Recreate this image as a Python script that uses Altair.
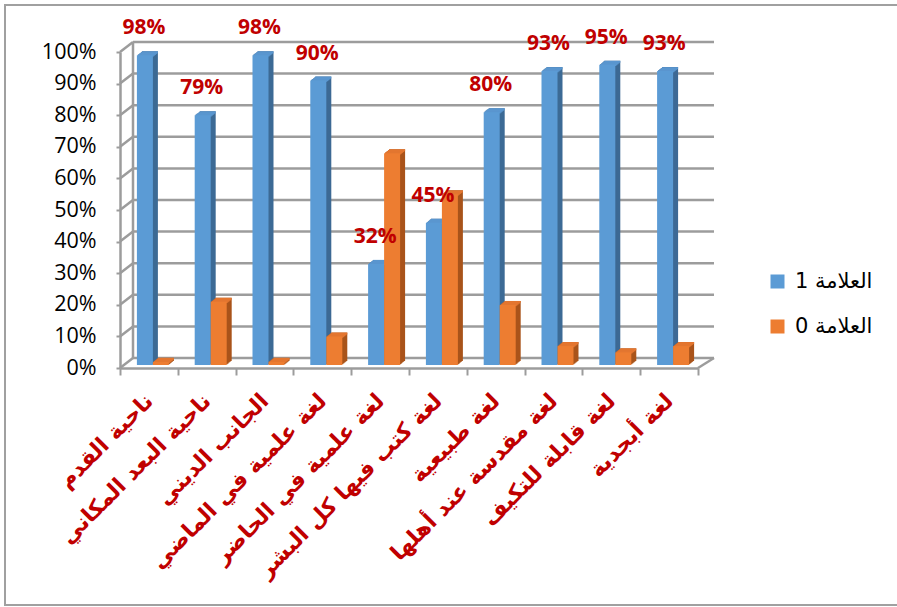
import altair as alt
import pandas as pd

categories = [
    "ناحية القدم",
    "ناحية البعد المكاني",
    "الجانب الديني",
    "لغة علمية في الماضي",
    "لغة علمية في الحاضر",
    "لغة كتب فيها كل البشر",
    "لغة طبيعية",
    "لغة مقدسة عند أهلها",
    "لغة قابلة للتكيف",
    "لغة أبجدية",
]
score1 = [98, 79, 98, 90, 32, 45, 80, 93, 95, 93]
score0 = [1, 20, 1, 9, 67, 54, 19, 6, 4, 6]
series_names = ["العلامة 1", "العلامة 0"]
tick_values = list(range(0, 101, 10))

W, H = 578, 316
PAD_L, PAD_T = 120, 52

df1 = pd.DataFrame({"cat": categories, "v": score1, "s": series_names[0]})
df0 = pd.DataFrame({"cat": categories, "v": score0, "s": series_names[1]})
df_ticks = pd.DataFrame({"t": tick_values})

xscale = alt.Scale(domain=categories, paddingInner=0, paddingOuter=0)
yscale = alt.Scale(domain=[0, 100], nice=False)
cscale = alt.Scale(domain=series_names, range=["#5B9BD5", "#ED7D31"])

GRID = "#9C9C9C"
GW = 2.5


def X():
    return alt.X("cat:N", scale=xscale, sort=categories, title=None)


def Y(f):
    return alt.Y(f, scale=yscale, title=None)


axes = alt.Chart(pd.DataFrame({"cat": categories, "t": [0] * len(categories)})).mark_point(opacity=0).encode(
    x=X(), y=Y("t:Q")
)

# back-wall gridlines
grid = alt.Chart(df_ticks).mark_rule(color=GRID, strokeWidth=GW, yOffset=-10).encode(
    y=Y("t:Q"), x=alt.value(13), x2=alt.value(W + 16)
)
# side connectors
conn = alt.Chart(df_ticks).mark_rule(color=GRID, strokeWidth=GW, y2Offset=-10).encode(
    y=Y("t:Q"), y2="t:Q", x=alt.value(0), x2=alt.value(13)
)
backleft = alt.Chart(pd.DataFrame({"a": [0], "b": [100]})).mark_rule(
    color=GRID, strokeWidth=GW, yOffset=-10, y2Offset=-10
).encode(y=Y("a:Q"), y2="b:Q", x=alt.value(13))
floorright = alt.Chart(pd.DataFrame({"a": [0]})).mark_rule(
    color=GRID, strokeWidth=GW, y2Offset=-10
).encode(y=Y("a:Q"), y2="a:Q", x=alt.value(W), x2=alt.value(W + 16))

layers = [axes, grid, conn, backleft, floorright]

specs = [
    (df1, -4, "#3D6A95", "#5A96CF"),
    (df0, 12, "#A9541B", "#E37630"),
]
for df, xo, dark, top in specs:
    for k in [5, 4, 3, 2, 1]:
        layers.append(
            alt.Chart(df).mark_bar(
                width=16, color=dark, xOffset=xo + k, yOffset=-3 - 0.8 * k,
                y2Offset=-3 - 0.8 * k,
            ).encode(x=X(), y=Y("v:Q"))
        )
    for k in [5, 4, 3, 2, 1]:
        layers.append(
            alt.Chart(df).mark_bar(
                width=16, color=top, xOffset=xo + k, yOffset=-3 - 0.8 * k,
                y2Offset=-3 - 0.8 * k + 2,
            ).encode(x=X(), y=Y("v:Q"), y2="v:Q")
        )
    layers.append(
        alt.Chart(df).mark_bar(width=16, xOffset=xo, yOffset=-3, y2Offset=-3).encode(
            x=X(),
            y=Y("v:Q"),
            color=alt.Color(
                "s:N", scale=cscale, sort=series_names,
                legend=alt.Legend(
                    title=None, orient="none", legendX=647, legendY=219,
                    symbolType="square", symbolSize=196, symbolStrokeWidth=0,
                    labelFont="DejaVu Sans", labelFontSize=21, labelColor="#000000",
                    labelOffset=7, rowPadding=23, padding=0,
                ),
            ),
        )
    )

labels = alt.Chart(df1).transform_calculate(lab="datum.v + '%'").mark_text(
    font="Open Sans", fontWeight="bold", fontSize=21, color="#C00000",
    baseline="middle", align="center", dx=-5, dy=-30,
).encode(x=X(), y=Y("v:Q"), text="lab:N")
layers.append(labels)

border = alt.Chart(pd.DataFrame({"a": [0]})).mark_rect(
    fill=None, stroke="#A0A0A0", strokeWidth=2
).encode(
    x=alt.value(5 - PAD_L), x2=alt.value(897 - PAD_L + 20),
    y=alt.value(5 - PAD_T), y2=alt.value(605 - PAD_T),
)
layers.append(border)

chart = alt.layer(*layers).properties(
    width=W, height=H,
    autosize=alt.AutoSizeParams(type="none"),
    padding={"left": PAD_L, "top": PAD_T, "right": 897 - PAD_L - W, "bottom": 607 - PAD_T - H},
    background="white",
).configure_view(stroke=None).configure_axisY(
    tickCount=10, labelExpr="datum.value + '%'",
    labelFont="Open Sans", labelFontSize=21.5, labelColor="#000000",
    labelPadding=20, labelOverlap=False, domainColor=GRID, domainWidth=GW,
    tickColor=GRID, tickWidth=2, tickSize=4, grid=False,
).configure_axisX(
    labelAngle=-45, labelAlign="right", labelBaseline="middle",
    labelFont="DejaVu Sans", labelFontWeight="bold", labelFontSize=22,
    labelColor="#C00000", labelPadding=22, labelLimit=500,
    labelOverlap=False,
    domainColor=GRID, domainWidth=GW, tickColor=GRID, tickWidth=2,
    tickSize=7, tickBand="extent", grid=False,
)

chart.save("out.html", embed_options={"renderer": "svg", "actions": False})
